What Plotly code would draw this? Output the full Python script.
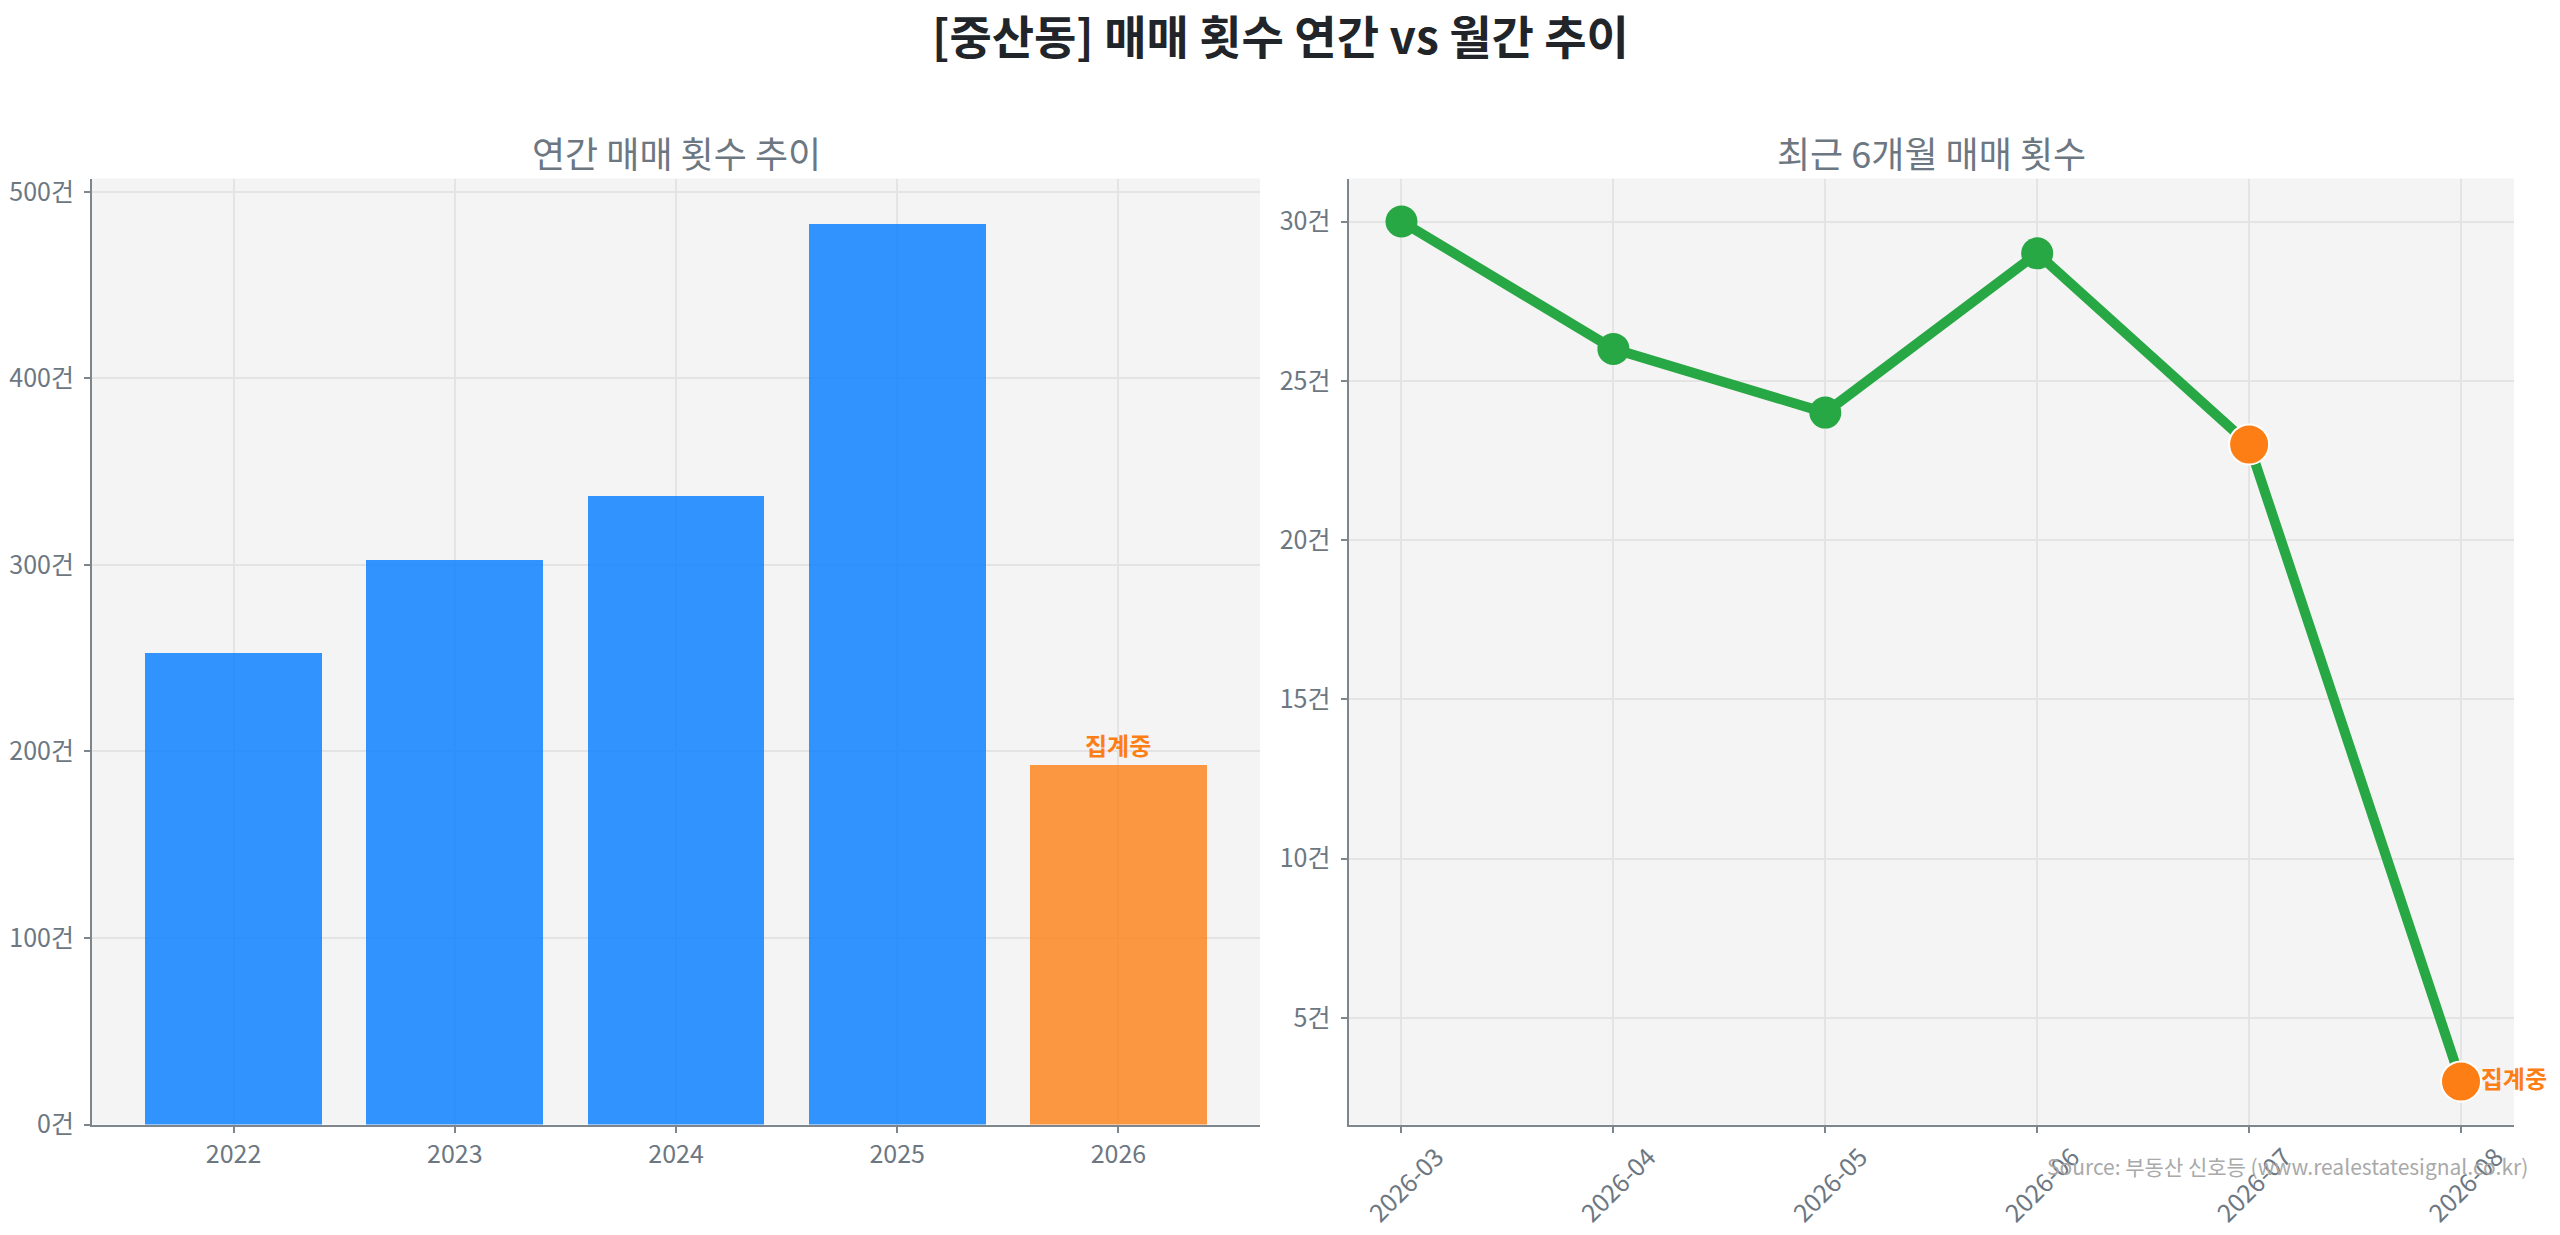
import plotly.graph_objects as go

# ---- data ----
years = ["2022", "2023", "2024", "2025", "2026"]
yearly_counts = [253, 303, 337, 483, 193]
yearly_partial = [False, False, False, False, True]

months = ["2026-03", "2026-04", "2026-05", "2026-06", "2026-07", "2026-08"]
monthly_counts = [30, 26, 24, 29, 23, 3]
partial_months = ["2026-07", "2026-08"]

title_text = "[중산동] 매매 횟수 연간 vs 월간 추이"
left_title = "연간 매매 횟수 추이"
right_title = "최근 6개월 매매 횟수"
partial_label = "집계중"
source_text = "Source: 부동산 신호등 (www.realestatesignal.co.kr)"

# ---- styles ----
W, H = 2560, 1235
FONT = "Noto Sans CJK KR"
BLUE = "#007bff"
ORANGE = "#fd7e14"
GREEN = "#28a745"
TICK_COLOR = "#6c7782"
AXIS_COLOR = "#7d858d"
GRID_COLOR = "#e4e4e4"
PLOT_BG = "#f4f4f4"

x1_dom = [92 / W, 1260 / W]
x2_dom = [1348.5 / W, 2514 / W]
y_dom = [1 - 1124.5 / H, 1 - 178.5 / H]

fig = go.Figure()

bar_colors = [ORANGE if p else BLUE for p in yearly_partial]
fig.add_trace(go.Bar(
    x=list(range(len(years))), y=yearly_counts,
    marker=dict(color=bar_colors, opacity=0.8, line=dict(width=0)),
    width=0.8, xaxis="x", yaxis="y", showlegend=False, hoverinfo="x+y",
))

midx = list(range(len(months)))
fig.add_trace(go.Scatter(
    x=midx, y=monthly_counts, mode="lines+markers",
    line=dict(color=GREEN, width=10),
    marker=dict(color=GREEN, size=32),
    xaxis="x2", yaxis="y2", showlegend=False,
))

p_idx = [months.index(m) for m in partial_months]
p_vals = [monthly_counts[i] for i in p_idx]

# label text (drawn beneath the orange markers)
fig.add_trace(go.Scatter(
    x=[p_idx[-1]], y=[p_vals[-1]], mode="markers+text",
    text=[partial_label], textposition="middle right",
    textfont=dict(family=FONT, size=24, color=ORANGE, weight="bold"),
    marker=dict(size=30, color="rgba(0,0,0,0)"),
    cliponaxis=False, xaxis="x2", yaxis="y2", showlegend=False, hoverinfo="skip",
))

fig.add_trace(go.Scatter(
    x=p_idx, y=p_vals, mode="markers",
    marker=dict(color=ORANGE, size=40, line=dict(color="white", width=2)),
    cliponaxis=False, xaxis="x2", yaxis="y2", showlegend=False,
))

axis_common = dict(
    showline=True, linecolor=AXIS_COLOR, linewidth=2,
    ticks="outside", ticklen=6, tickwidth=1.5, tickcolor=AXIS_COLOR,
    showgrid=True, gridcolor=GRID_COLOR, gridwidth=1.5, zeroline=False,
    tickfont=dict(family=FONT, size=25, color=TICK_COLOR),
    mirror=False, automargin=False,
)

fig.update_layout(
    width=W, height=H,
    margin=dict(l=0, r=0, t=0, b=0, autoexpand=False),
    paper_bgcolor="white", plot_bgcolor=PLOT_BG,
    font=dict(family=FONT),
    xaxis=dict(domain=x1_dom, anchor="y", range=[-0.64, 4.64],
               tickmode="array", tickvals=list(range(len(years))), ticktext=years,
               **axis_common),
    yaxis=dict(domain=y_dom, anchor="x", range=[0, 507.15], dtick=100,
               ticksuffix="건", ticklabelstandoff=5, **axis_common),
    xaxis2=dict(domain=x2_dom, anchor="y2", range=[-0.25, 5.25],
                tickmode="array", tickvals=midx, ticktext=months,
                tickangle=-45, ticklabelshift=35, **axis_common),
    yaxis2=dict(domain=y_dom, anchor="x2", range=[1.65, 31.35], dtick=5,
                ticksuffix="건", ticklabelstandoff=5, **axis_common),
    bargap=0,
)

fig.add_annotation(
    text=f"<b>{title_text}</b>", x=0.5, y=1, xref="paper", yref="paper",
    xanchor="center", yanchor="top", showarrow=False, borderpad=0,
    font=dict(family=FONT, size=46, color="#212529"),
)
fig.add_annotation(
    text=left_title, x=sum(x1_dom) / 2, y=1 - 152 / H, xref="paper", yref="paper",
    xanchor="center", yanchor="middle", showarrow=False,
    font=dict(family=FONT, size=36, color=TICK_COLOR),
)
fig.add_annotation(
    text=right_title, x=sum(x2_dom) / 2, y=1 - 152 / H, xref="paper", yref="paper",
    xanchor="center", yanchor="middle", showarrow=False,
    font=dict(family=FONT, size=36, color=TICK_COLOR),
)
for i, p in enumerate(yearly_partial):
    if p:
        fig.add_annotation(
            text=f"<b>{partial_label}</b>", x=i, y=yearly_counts[i], xref="x", yref="y",
            xanchor="center", yanchor="bottom", showarrow=False, yshift=0,
            font=dict(family=FONT, size=24, color=ORANGE),
        )
fig.add_annotation(
    text=source_text, x=2530 / W, y=1 - 1166 / H, xref="paper", yref="paper",
    xanchor="right", yanchor="middle", showarrow=False,
    font=dict(family=FONT, size=21, color="#a9a9a9"),
)

fig.write_html("out.html", config={"displayModeBar": False},
               post_script="document.body.style.margin='0';")
